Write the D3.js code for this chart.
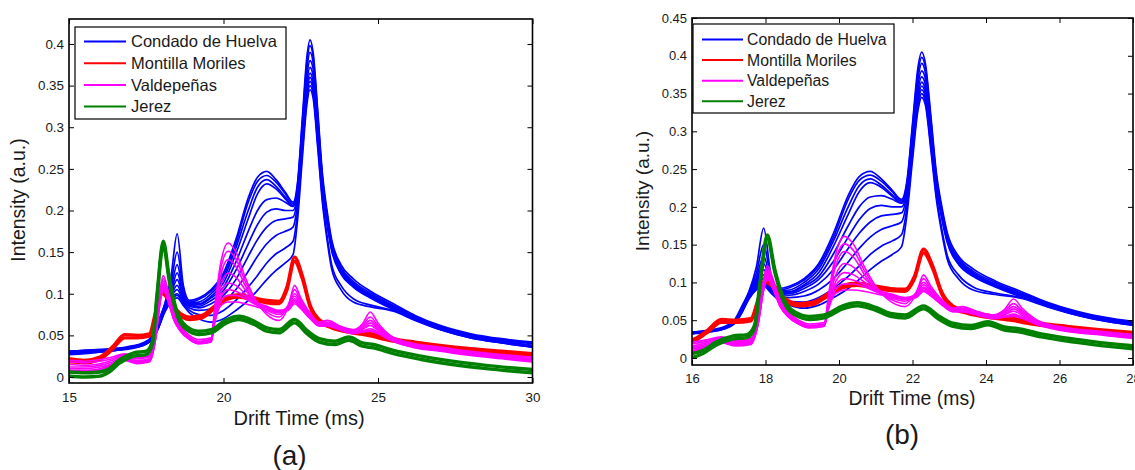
<!DOCTYPE html>
<html>
<head>
<meta charset="utf-8">
<script src="https://cdn.jsdelivr.net/npm/d3@7"></script>
<style>
  body { margin: 0; background: #fff; }
  svg { display: block; font-family: "Liberation Sans", Arial, sans-serif; }
</style>
</head>
<body>
<div id="chart"></div>
<script>
// legend / series
const regions = ["Condado de Huelva", "Montilla Moriles", "Valdepeñas", "Jerez"];
const colors = ["#0000ff", "#ff0000", "#ff00ff", "#008000"];

// drift time grids (ms) for each group of spectra
const timeBlue = [15, 15.5, 16, 16.5, 17, 17.4, 17.7, 17.9, 18.1, 18.3, 18.5, 18.7, 18.9, 19.2, 19.6, 20, 20.4, 20.8, 21.1, 21.4, 21.7, 22.0, 22.25, 22.4, 22.55, 22.7, 22.8, 22.9, 23.05, 23.2, 23.35, 23.5, 23.8, 24.2, 24.8, 25.5, 26.2, 27, 28, 29, 30];
const timeRed = [15, 15.5, 16, 16.4, 16.8, 17.2, 17.6, 17.8, 18.0, 18.2, 18.5, 18.9, 19.3, 19.7, 20.1, 20.5, 21.0, 21.4, 21.8, 22.05, 22.3, 22.55, 22.8, 23.1, 23.5, 24.0, 24.5, 24.8, 25.1, 25.5, 26.2, 27, 28, 29, 30];
const timeMagenta = [15, 15.5, 16, 16.4, 16.8, 17.2, 17.6, 17.8, 17.95, 18.05, 18.2, 18.4, 18.6, 18.9, 19.2, 19.6, 19.72, 19.9, 20.15, 20.4, 20.7, 21.0, 21.4, 21.8, 22.1, 22.3, 22.5, 22.8, 23.1, 23.35, 23.8, 24.2, 24.5, 24.75, 25.0, 25.4, 26.2, 27, 28, 29, 30];
const timeGreen = [15, 15.5, 16, 16.3, 16.65, 17.1, 17.5, 17.7, 17.85, 18.05, 18.25, 18.5, 18.8, 19.2, 19.6, 20.1, 20.5, 21.0, 21.4, 21.8, 22.3, 22.7, 23.1, 23.6, 24.05, 24.5, 24.85, 25.5, 26.4, 27.4, 28.5, 30];

// intensities (a.u.)
const huelva = [
  [0.031, 0.032, 0.033, 0.034, 0.037, 0.041, 0.05, 0.068, 0.088, 0.12, 0.172, 0.11, 0.092, 0.095, 0.105, 0.125, 0.165, 0.215, 0.24, 0.247, 0.237, 0.222, 0.21, 0.235, 0.31, 0.385, 0.405, 0.39, 0.32, 0.245, 0.2, 0.165, 0.135, 0.118, 0.102, 0.088, 0.074, 0.062, 0.052, 0.046, 0.042],
  [0.029, 0.03, 0.031, 0.033, 0.036, 0.04, 0.048, 0.066, 0.087, 0.112, 0.15, 0.105, 0.09, 0.093, 0.103, 0.122, 0.16, 0.21, 0.235, 0.242, 0.234, 0.22, 0.208, 0.232, 0.305, 0.378, 0.398, 0.385, 0.315, 0.24, 0.196, 0.162, 0.132, 0.115, 0.1, 0.086, 0.073, 0.061, 0.051, 0.045, 0.041],
  [0.03, 0.031, 0.032, 0.033, 0.035, 0.039, 0.047, 0.064, 0.085, 0.106, 0.135, 0.1, 0.089, 0.09, 0.1, 0.118, 0.155, 0.2, 0.228, 0.237, 0.229, 0.216, 0.206, 0.228, 0.3, 0.37, 0.39, 0.378, 0.31, 0.238, 0.195, 0.16, 0.13, 0.113, 0.098, 0.085, 0.072, 0.06, 0.05, 0.044, 0.04],
  [0.027, 0.029, 0.03, 0.032, 0.035, 0.039, 0.046, 0.062, 0.084, 0.102, 0.125, 0.098, 0.088, 0.088, 0.097, 0.113, 0.148, 0.19, 0.22, 0.232, 0.226, 0.214, 0.205, 0.226, 0.295, 0.362, 0.38, 0.37, 0.305, 0.235, 0.193, 0.158, 0.128, 0.112, 0.097, 0.084, 0.071, 0.059, 0.049, 0.043, 0.038],
  [0.03, 0.031, 0.032, 0.034, 0.036, 0.04, 0.047, 0.063, 0.084, 0.1, 0.117, 0.096, 0.087, 0.087, 0.095, 0.108, 0.138, 0.175, 0.2, 0.213, 0.215, 0.21, 0.205, 0.225, 0.29, 0.355, 0.372, 0.362, 0.3, 0.232, 0.19, 0.157, 0.127, 0.111, 0.096, 0.083, 0.07, 0.058, 0.048, 0.042, 0.037],
  [0.028, 0.029, 0.031, 0.032, 0.035, 0.038, 0.046, 0.061, 0.083, 0.098, 0.11, 0.094, 0.086, 0.085, 0.092, 0.104, 0.128, 0.16, 0.183, 0.198, 0.202, 0.2, 0.2, 0.222, 0.285, 0.348, 0.365, 0.355, 0.295, 0.23, 0.188, 0.155, 0.126, 0.11, 0.095, 0.082, 0.07, 0.058, 0.048, 0.042, 0.037],
  [0.031, 0.032, 0.033, 0.034, 0.036, 0.04, 0.047, 0.062, 0.082, 0.096, 0.105, 0.092, 0.085, 0.083, 0.088, 0.098, 0.117, 0.145, 0.165, 0.18, 0.188, 0.19, 0.192, 0.218, 0.28, 0.342, 0.36, 0.35, 0.29, 0.228, 0.186, 0.154, 0.125, 0.109, 0.095, 0.082, 0.07, 0.058, 0.048, 0.042, 0.037],
  [0.029, 0.03, 0.032, 0.033, 0.035, 0.039, 0.046, 0.06, 0.08, 0.094, 0.1, 0.09, 0.083, 0.08, 0.082, 0.09, 0.105, 0.127, 0.145, 0.16, 0.17, 0.175, 0.18, 0.21, 0.275, 0.338, 0.355, 0.345, 0.285, 0.225, 0.184, 0.152, 0.124, 0.108, 0.094, 0.081, 0.069, 0.057, 0.047, 0.041, 0.036],
  [0.027, 0.028, 0.03, 0.032, 0.034, 0.038, 0.045, 0.059, 0.079, 0.092, 0.098, 0.088, 0.08, 0.075, 0.074, 0.08, 0.092, 0.108, 0.122, 0.137, 0.148, 0.155, 0.163, 0.2, 0.27, 0.333, 0.35, 0.34, 0.28, 0.215, 0.17, 0.135, 0.11, 0.094, 0.086, 0.08, 0.069, 0.058, 0.048, 0.042, 0.036],
  [0.03, 0.031, 0.032, 0.033, 0.035, 0.039, 0.046, 0.06, 0.078, 0.09, 0.095, 0.086, 0.077, 0.07, 0.066, 0.07, 0.08, 0.092, 0.104, 0.117, 0.128, 0.137, 0.147, 0.19, 0.262, 0.328, 0.345, 0.335, 0.275, 0.21, 0.165, 0.13, 0.105, 0.09, 0.084, 0.079, 0.068, 0.057, 0.047, 0.041, 0.036]
];
const montilla = [
  [0.022, 0.02, 0.024, 0.036, 0.051, 0.05, 0.052, 0.078, 0.104, 0.098, 0.08, 0.072, 0.074, 0.085, 0.096, 0.099, 0.095, 0.092, 0.091, 0.108, 0.144, 0.122, 0.087, 0.069, 0.062, 0.057, 0.054, 0.052, 0.049, 0.046, 0.042, 0.038, 0.034, 0.031, 0.028],
  [0.018, 0.017, 0.021, 0.033, 0.047, 0.047, 0.049, 0.074, 0.1, 0.094, 0.077, 0.069, 0.071, 0.082, 0.093, 0.096, 0.092, 0.089, 0.088, 0.104, 0.139, 0.118, 0.084, 0.066, 0.059, 0.054, 0.051, 0.049, 0.046, 0.043, 0.039, 0.035, 0.031, 0.028, 0.025]
];
const valdepenas = [
  [0.02, 0.019, 0.021, 0.024, 0.028, 0.024, 0.026, 0.055, 0.105, 0.122, 0.105, 0.077, 0.062, 0.05, 0.045, 0.047, 0.085, 0.135, 0.161, 0.15, 0.12, 0.095, 0.075, 0.068, 0.085, 0.11, 0.095, 0.077, 0.066, 0.068, 0.061, 0.057, 0.064, 0.078, 0.065, 0.05, 0.04, 0.036, 0.031, 0.027, 0.024],
  [0.012, 0.012, 0.014, 0.018, 0.024, 0.02, 0.022, 0.05, 0.1, 0.118, 0.1, 0.074, 0.06, 0.048, 0.043, 0.045, 0.08, 0.128, 0.151, 0.142, 0.115, 0.093, 0.078, 0.072, 0.087, 0.105, 0.092, 0.076, 0.065, 0.066, 0.06, 0.056, 0.062, 0.072, 0.062, 0.049, 0.039, 0.035, 0.03, 0.026, 0.022],
  [0.008, 0.008, 0.01, 0.015, 0.022, 0.018, 0.02, 0.048, 0.097, 0.115, 0.098, 0.072, 0.058, 0.047, 0.042, 0.044, 0.078, 0.12, 0.141, 0.133, 0.11, 0.09, 0.08, 0.075, 0.086, 0.1, 0.09, 0.075, 0.064, 0.065, 0.059, 0.055, 0.06, 0.068, 0.06, 0.048, 0.038, 0.034, 0.029, 0.025, 0.021],
  [0.015, 0.014, 0.016, 0.02, 0.026, 0.022, 0.024, 0.05, 0.095, 0.112, 0.096, 0.071, 0.058, 0.047, 0.042, 0.044, 0.075, 0.108, 0.125, 0.12, 0.105, 0.092, 0.084, 0.078, 0.085, 0.097, 0.088, 0.074, 0.063, 0.064, 0.058, 0.054, 0.058, 0.065, 0.058, 0.047, 0.037, 0.033, 0.028, 0.024, 0.02],
  [0.005, 0.006, 0.008, 0.013, 0.02, 0.016, 0.018, 0.045, 0.092, 0.108, 0.093, 0.069, 0.056, 0.045, 0.04, 0.042, 0.072, 0.1, 0.113, 0.11, 0.1, 0.09, 0.085, 0.08, 0.084, 0.094, 0.086, 0.073, 0.062, 0.063, 0.057, 0.053, 0.057, 0.062, 0.056, 0.046, 0.036, 0.032, 0.027, 0.023, 0.019],
  [0.01, 0.01, 0.012, 0.016, 0.023, 0.019, 0.021, 0.046, 0.09, 0.105, 0.092, 0.068, 0.056, 0.046, 0.041, 0.043, 0.07, 0.095, 0.105, 0.103, 0.097, 0.088, 0.083, 0.078, 0.082, 0.092, 0.084, 0.072, 0.062, 0.062, 0.057, 0.053, 0.055, 0.058, 0.054, 0.045, 0.036, 0.032, 0.027, 0.023, 0.019],
  [0.018, 0.017, 0.019, 0.022, 0.027, 0.023, 0.025, 0.05, 0.094, 0.11, 0.095, 0.07, 0.057, 0.046, 0.042, 0.045, 0.068, 0.09, 0.098, 0.098, 0.094, 0.088, 0.083, 0.079, 0.081, 0.09, 0.083, 0.071, 0.062, 0.062, 0.057, 0.053, 0.055, 0.056, 0.053, 0.045, 0.037, 0.033, 0.029, 0.025, 0.021],
  [0.006, 0.007, 0.009, 0.014, 0.021, 0.017, 0.019, 0.045, 0.09, 0.106, 0.092, 0.068, 0.055, 0.045, 0.04, 0.042, 0.065, 0.085, 0.09, 0.09, 0.088, 0.085, 0.081, 0.077, 0.08, 0.088, 0.082, 0.07, 0.061, 0.061, 0.056, 0.052, 0.054, 0.055, 0.052, 0.044, 0.035, 0.031, 0.026, 0.022, 0.018]
];
const jerez = [
  [0.006, 0.005, 0.006, 0.01, 0.021, 0.029, 0.031, 0.043, 0.1, 0.163, 0.118, 0.078, 0.061, 0.055, 0.057, 0.069, 0.073, 0.067, 0.059, 0.057, 0.069, 0.056, 0.046, 0.043, 0.048, 0.041, 0.039, 0.032, 0.025, 0.019, 0.014, 0.009],
  [0.001, 0.0, 0.001, 0.006, 0.017, 0.025, 0.027, 0.039, 0.095, 0.158, 0.114, 0.074, 0.057, 0.051, 0.053, 0.065, 0.069, 0.063, 0.055, 0.053, 0.065, 0.052, 0.042, 0.039, 0.044, 0.037, 0.035, 0.028, 0.021, 0.015, 0.01, 0.005]
];

// axes ticks
const xTicksA = [15, 20, 25, 30];
const yTicksA = [0, 0.05, 0.1, 0.15, 0.2, 0.25, 0.3, 0.35, 0.4];
const xTicksB = [16, 18, 20, 22, 24, 26, 28];
const yTicksB = [0, 0.05, 0.1, 0.15, 0.2, 0.25, 0.3, 0.35, 0.4, 0.45];

// drift time alignment (ms) applied in panel (b), per group
const shiftB = [-0.55, 0, 0, 0];

const groups = [
  { time: timeBlue, curves: huelva, width: 1.7 },
  { time: timeRed, curves: montilla, width: 3.2 },
  { time: timeMagenta, curves: valdepenas, width: 1.6 },
  { time: timeGreen, curves: jerez, width: 3.4 }
];

const svg = d3.select("#chart").append("svg")
  .attr("width", 1135)
  .attr("height", 470);

const panels = [
  { id: "a", left: 69, right: 532.5, top: 19, bottom: 383,
    xDomain: [15, 30], yDomain: [-0.0072, 0.43], xTicks: xTicksA, yTicks: yTicksA,
    shift: [0, 0, 0, 0], tickFont: 13.4, xPad: 9.5,
    legend: { x: 75, y: 27, w: 211, h: 92, row0: 41.5, step: 21.7, font: 16.5, lineX: 84, lineLen: 42, textX: 131 },
    xLabel: { x: 299, y: 425, size: 20 }, yLabel: { x: 25, y: 200, size: 19.5 },
    tag: { x: 289.5, y: 465, size: 28 } },
  { id: "b", left: 692, right: 1133, top: 18, bottom: 365,
    xDomain: [16, 28], yDomain: [-0.0093, 0.45], xTicks: xTicksB, yTicks: yTicksB,
    shift: shiftB, tickFont: 13, xPad: 8.5,
    legend: { x: 693, y: 24, w: 201, h: 89, row0: 39.5, step: 20.6, font: 15.8, lineX: 702, lineLen: 41, textX: 747 },
    xLabel: { x: 912, y: 405, size: 19.4 }, yLabel: { x: 649, y: 191, size: 19 },
    tag: { x: 902, y: 444, size: 28 } }
];

panels.forEach(drawPanel);

function drawPanel(p) {
  const x = d3.scaleLinear().domain(p.xDomain).range([p.left, p.right]);
  const y = d3.scaleLinear().domain(p.yDomain).range([p.bottom, p.top]);
  const g = svg.append("g");

  g.append("clipPath").attr("id", "clip-" + p.id)
    .append("rect")
    .attr("x", p.left).attr("y", p.top)
    .attr("width", p.right - p.left).attr("height", p.bottom - p.top);

  const line = d3.line()
    .x(d => x(d[0]))
    .y(d => y(d[1]))
    .curve(d3.curveMonotoneX);

  const plot = g.append("g").attr("clip-path", `url(#clip-${p.id})`);
  groups.forEach((grp, gi) => {
    grp.curves.forEach(vals => {
      const pts = grp.time.map((t, i) => [t + p.shift[gi], vals[i]]);
      plot.append("path")
        .attr("d", line(pts))
        .attr("fill", "none")
        .attr("stroke", colors[gi])
        .attr("stroke-width", grp.width)
        .attr("stroke-linejoin", "round");
    });
  });

  // axes, ticks pointing inward like matlab
  const fmt = d => String(d);
  const bottom = g.append("g").attr("transform", `translate(0,${p.bottom})`)
    .call(d3.axisBottom(x).tickValues(p.xTicks).tickFormat(fmt).tickSize(-5).tickSizeOuter(0).tickPadding(p.xPad));
  const left = g.append("g").attr("transform", `translate(${p.left},0)`)
    .call(d3.axisLeft(y).tickValues(p.yTicks).tickFormat(fmt).tickSize(-5).tickSizeOuter(0).tickPadding(5));
  g.append("g").attr("transform", `translate(0,${p.top})`)
    .call(d3.axisTop(x).tickValues(p.xTicks).tickFormat("").tickSize(-5).tickSizeOuter(0));
  g.append("g").attr("transform", `translate(${p.right},0)`)
    .call(d3.axisRight(y).tickValues(p.yTicks).tickFormat("").tickSize(-5).tickSizeOuter(0));

  g.selectAll(".domain").remove();
  g.selectAll(".tick line").attr("stroke", "#000").attr("stroke-width", 1);
  [bottom, left].forEach(a => a.selectAll("text")
    .attr("fill", "#1a1a1a")
    .style("font-size", p.tickFont + "px")
    .style("font-family", '"Liberation Sans", Arial, sans-serif'));

  g.append("rect")
    .attr("x", p.left).attr("y", p.top)
    .attr("width", p.right - p.left).attr("height", p.bottom - p.top)
    .attr("fill", "none").attr("stroke", "#000").attr("stroke-width", 1.6);

  // legend
  const L = p.legend;
  const leg = g.append("g");
  leg.append("rect")
    .attr("x", L.x).attr("y", L.y).attr("width", L.w).attr("height", L.h)
    .attr("fill", "#fff").attr("stroke", "#000").attr("stroke-width", 1.2);
  regions.forEach((name, i) => {
    const ly = L.row0 + i * L.step;
    leg.append("line")
      .attr("x1", L.lineX).attr("x2", L.lineX + L.lineLen)
      .attr("y1", ly).attr("y2", ly)
      .attr("stroke", colors[i]).attr("stroke-width", 2);
    leg.append("text")
      .attr("x", L.textX).attr("y", ly)
      .attr("dy", "0.35em")
      .attr("fill", "#1a1a1a")
      .style("font-size", L.font + "px")
      .text(name);
  });

  // labels
  g.append("text")
    .attr("x", p.xLabel.x).attr("y", p.xLabel.y)
    .attr("text-anchor", "middle")
    .attr("fill", "#1a1a1a")
    .style("font-size", p.xLabel.size + "px")
    .text("Drift Time (ms)");
  g.append("text")
    .attr("transform", `translate(${p.yLabel.x},${p.yLabel.y}) rotate(-90)`)
    .attr("text-anchor", "middle")
    .attr("fill", "#1a1a1a")
    .style("font-size", p.yLabel.size + "px")
    .text("Intensity (a.u.)");
  g.append("text")
    .attr("x", p.tag.x).attr("y", p.tag.y)
    .attr("text-anchor", "middle")
    .attr("fill", "#1a1a1a")
    .style("font-size", p.tag.size + "px")
    .text(`(${p.id})`);
}
</script>
</body>
</html>
